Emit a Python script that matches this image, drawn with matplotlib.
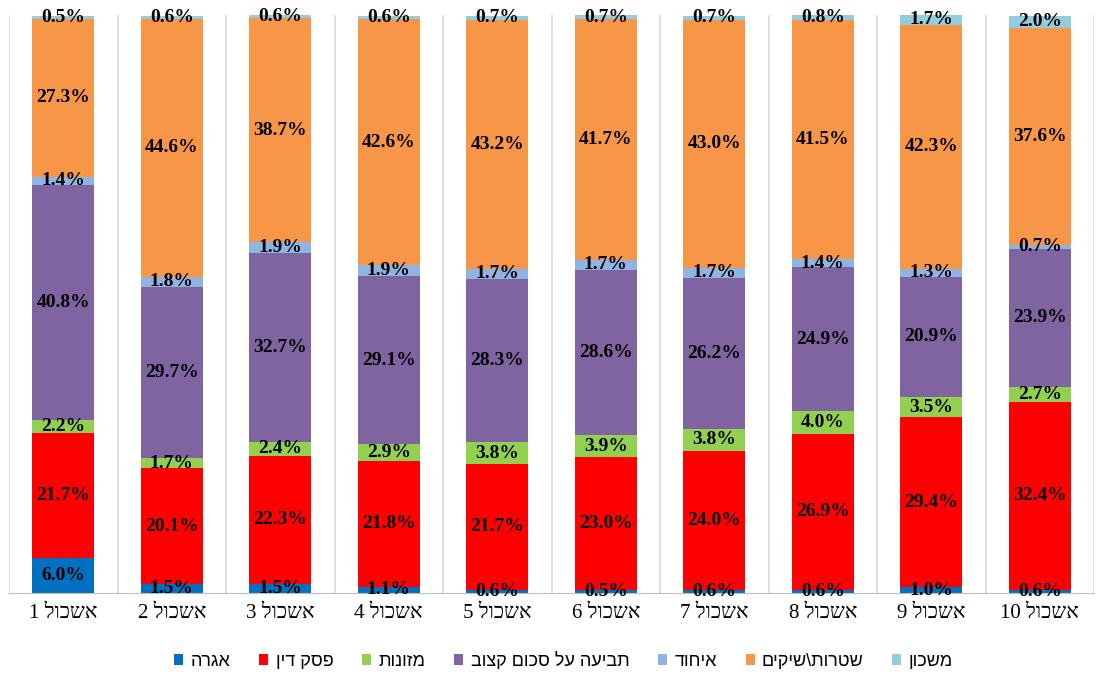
import numpy as np
import matplotlib
matplotlib.use("Agg")
import matplotlib.pyplot as plt

plt.rcParams['font.family'] = ['Liberation Serif', 'DejaVu Sans']


def heb(s):
    # matplotlib has no bidi support: reverse Hebrew runs for display
    parts = s.split(' ')
    out = []
    for p in parts:
        out.append(p if p.isdigit() else p[::-1])
    return ' '.join(out[::-1])


clusters = ['אשכול %d' % i for i in range(1, 11)]
series = ['אגרה', 'פסק דין', 'מזונות', 'תביעה על סכום קצוב', 'איחוד', 'שטרות\\שיקים', 'משכון']
colors = ['#0070C0', '#FF0000', '#92D050', '#8064A2', '#8EB4E3', '#F79646', '#93CDDD']

agra = [6.0, 1.5, 1.5, 1.1, 0.6, 0.5, 0.6, 0.6, 1.0, 0.6]
psak_din = [21.7, 20.1, 22.3, 21.8, 21.7, 23.0, 24.0, 26.9, 29.4, 32.4]
mezonot = [2.2, 1.7, 2.4, 2.9, 3.8, 3.9, 3.8, 4.0, 3.5, 2.7]
tvia = [40.8, 29.7, 32.7, 29.1, 28.3, 28.6, 26.2, 24.9, 20.9, 23.9]
ichud = [1.4, 1.8, 1.9, 1.9, 1.7, 1.7, 1.7, 1.4, 1.3, 0.7]
shtarot = [27.3, 44.6, 38.7, 42.6, 43.2, 41.7, 43.0, 41.5, 42.3, 37.6]
mashkon = [0.5, 0.6, 0.6, 0.6, 0.7, 0.7, 0.7, 0.8, 1.7, 2.0]

data = [agra, psak_din, mezonot, tvia, ichud, shtarot, mashkon]

fig = plt.figure(figsize=(11.03, 6.76), dpi=100)
ax = fig.add_axes([9 / 1103, 83 / 676, 1085 / 1103, 578 / 676])

x = np.arange(len(clusters))
bottom = np.zeros(len(clusters))
handles = []
for name, vals, col in zip(series, data, colors):
    vals = np.array(vals)
    b = ax.bar(x, vals, 0.57, bottom=bottom, color=col, label=heb(name), zorder=2)
    handles.append(b)
    for xi, v, bt in zip(x, vals, bottom):
        ax.text(xi, bt + v / 2, f'{v:.1f}%', ha='center', va='center',
                fontsize=14, fontweight='bold', color='black', zorder=3)
    bottom += vals

ax.set_xlim(-0.5, len(clusters) - 0.5)
ax.set_ylim(0, bottom.max())
ax.set_yticks([])
ax.set_xticks(x)
ax.set_xticklabels([heb(c) for c in clusters], fontsize=15)
ax.tick_params(axis='x', length=0, pad=8)
for xb in np.arange(-0.5, len(clusters), 1.0):
    ax.axvline(xb, color='#D9D9D9', lw=1.2, zorder=1)
for s in ['top', 'left', 'right']:
    ax.spines[s].set_visible(False)
ax.spines['bottom'].set_color('#BFBFBF')

fig.legend(handles=handles, loc='center', bbox_to_anchor=(0.511, 15 / 676), ncol=7,
           frameon=False, prop={'family': ['Liberation Sans', 'DejaVu Sans'], 'size': 13},
           handlelength=0.5, handleheight=0.5, handletextpad=0.4, columnspacing=1.6)

fig.savefig('out.png', dpi=100)
